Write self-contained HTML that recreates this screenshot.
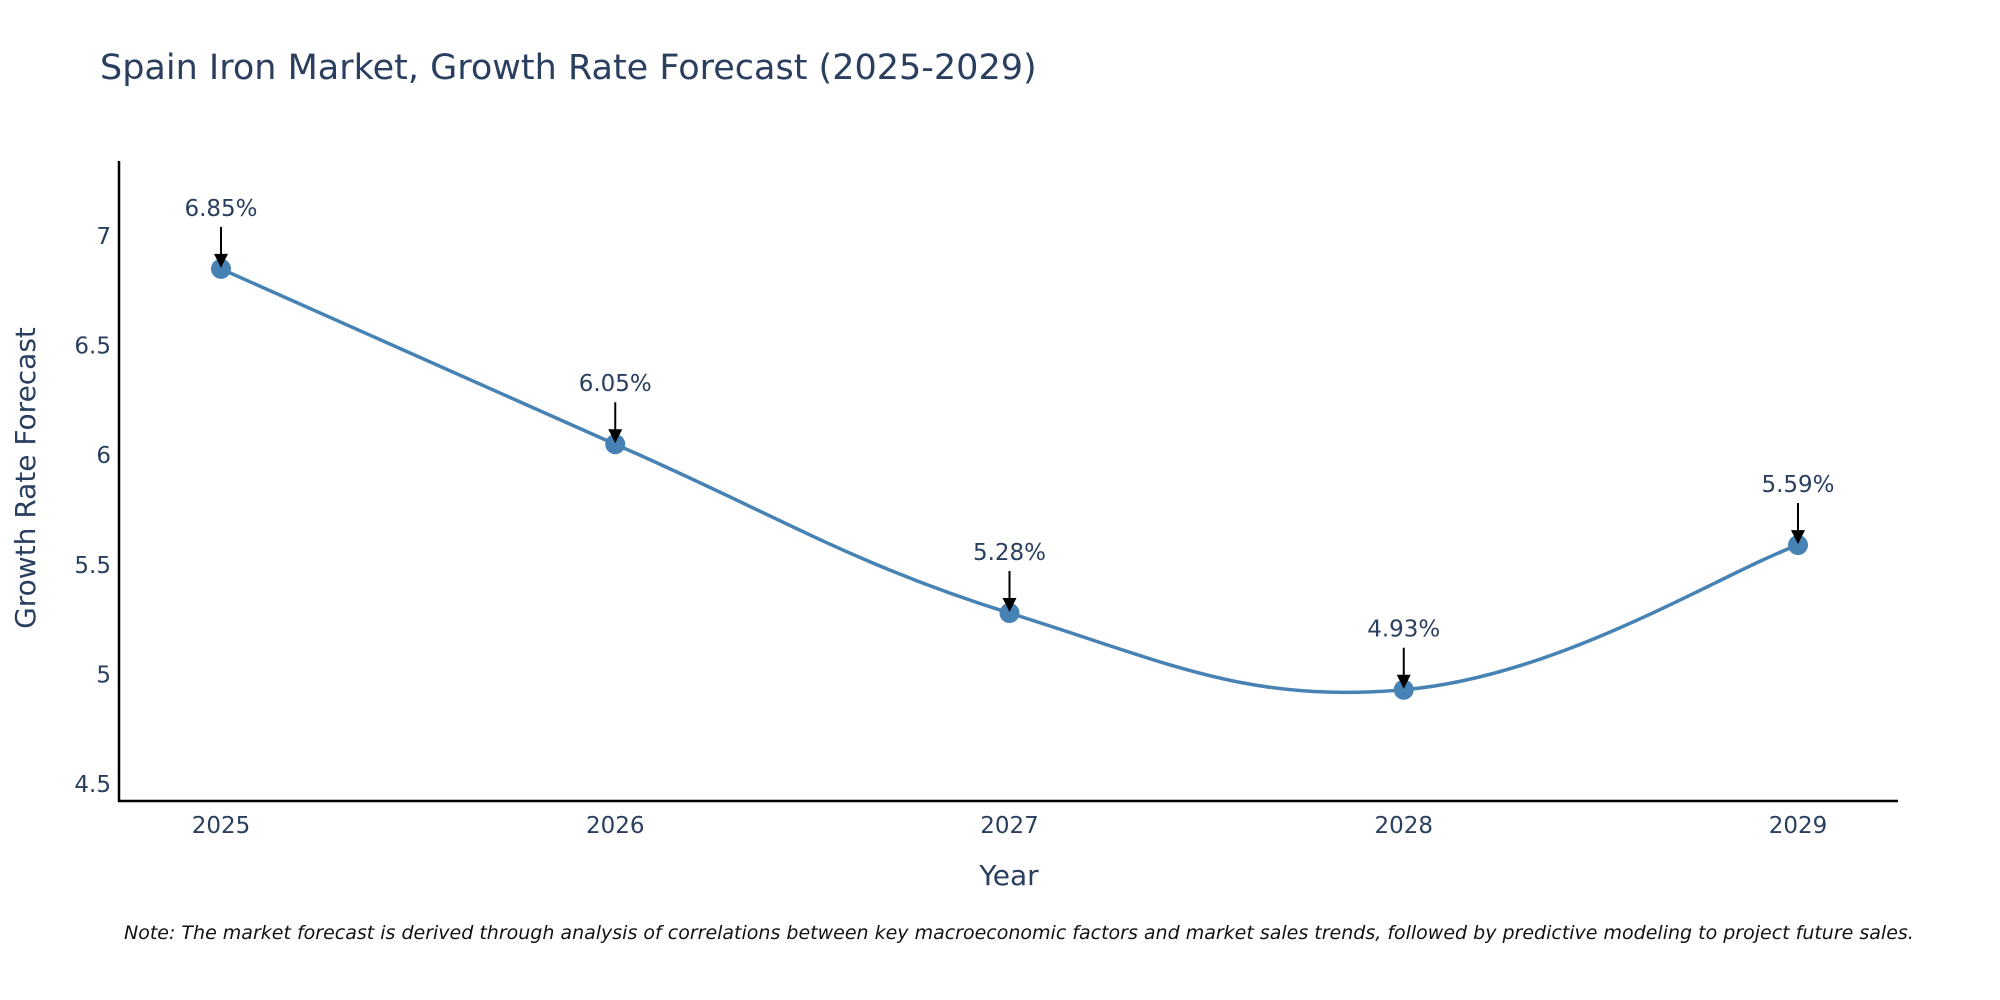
<!DOCTYPE html>
<html><head><meta charset="utf-8">
<style>
html,body{margin:0;padding:0;background:#fff;}
svg{display:block;font-family:"DejaVu Sans","Liberation Sans",sans-serif;}
</style></head>
<body>
<svg id="chart" width="2000" height="1000" viewBox="0 0 2000 1000" xmlns="http://www.w3.org/2000/svg">
<text x="100" y="79" font-size="35" fill="#2a3f5f">Spain Iron Market, Growth Rate Forecast (2025-2029)</text>
<g id="yticks"></g>
<g id="xticks"></g>
<line x1="119" y1="161" x2="119" y2="802" stroke="#000" stroke-width="2.5"/>
<line x1="118" y1="801" x2="1898" y2="801" stroke="#000" stroke-width="2.5"/>
<path id="line" fill="none" stroke="#4682b4" stroke-width="3.5"/>
<g id="points"></g>
<g id="annots"></g>
<text x="1009" y="885" font-size="28" fill="#2a3f5f" text-anchor="middle">Year</text>
<text x="35" y="478" font-size="28" fill="#2a3f5f" text-anchor="middle" transform="rotate(-90 35 478)">Growth Rate Forecast</text>
<text x="124" y="939" font-size="19" font-style="italic" fill="#111">Note: The market forecast is derived through analysis of correlations between key macroeconomic factors and market sales trends, followed by predictive modeling to project future sales.</text>
</svg>
<script>
const years = [2025, 2026, 2027, 2028, 2029];
const values = [6.85, 6.05, 5.28, 4.93, 5.59];
const labels = ["6.85%", "6.05%", "5.28%", "4.93%", "5.59%"];
const yTickVals = [4.5, 5, 5.5, 6, 6.5, 7];
const yTickLabels = ["4.5", "5", "5.5", "6", "6.5", "7"];

const NS = "http://www.w3.org/2000/svg";
function xs(v){ return 221 + (v - 2025) * (1798 - 221) / 4; }
function ys(v){ return 784 - (v - 4.5) * (784 - 236) / 2.5; }
function mk(tag, attrs, parent){
  const e = document.createElementNS(NS, tag);
  for (const k in attrs) e.setAttribute(k, attrs[k]);
  parent.appendChild(e); return e;
}
const yt = document.getElementById("yticks");
yTickVals.forEach((v, i) => {
  const t = mk("text", {x: 111, y: ys(v) + 8, "font-size": 23, fill: "#2a3f5f", "text-anchor": "end"}, yt);
  
  
  t.textContent = yTickLabels[i];
});
const xt = document.getElementById("xticks");
years.forEach(y => {
  const t = mk("text", {x: xs(y), y: 833, "font-size": 23, fill: "#2a3f5f", "text-anchor": "middle"}, xt);
  
  
  t.textContent = String(y);
});
const P = years.map((y, i) => [xs(y), ys(values[i])]);
let d = "M" + P[0][0] + "," + P[0][1];
const s = 0.2;
for (let i = 0; i < P.length - 1; i++){
  const p0 = P[i-1] || P[i], p1 = P[i], p2 = P[i+1], p3 = P[i+2] || P[i+1];
  const c1 = [p1[0] + (p2[0]-p0[0])*s, p1[1] + (p2[1]-p0[1])*s];
  const c2 = [p2[0] - (p3[0]-p1[0])*s, p2[1] - (p3[1]-p1[1])*s];
  d += " C" + c1.join(",") + " " + c2.join(",") + " " + p2.join(",");
}
document.getElementById("line").setAttribute("d", d);
const pts = document.getElementById("points");
const an = document.getElementById("annots");
P.forEach((p, i) => {
  const c = mk("circle", {cx: p[0], cy: p[1], r: 10, fill: "#4682b4"}, pts);
  
  
  const l = mk("line", {x1: p[0], y1: p[1] - 42, x2: p[0], y2: p[1] - 12, stroke: "#000", "stroke-width": 2}, an);
  
  
  const h = mk("polygon", {points: (p[0]-7)+","+(p[1]-15)+" "+(p[0]+7)+","+(p[1]-15)+" "+p[0]+","+(p[1]-1), fill: "#000"}, an);
  
  
  const t = mk("text", {x: p[0], y: p[1] - 53, "font-size": 23, fill: "#2a3f5f", "text-anchor": "middle"}, an);
  
  
  t.textContent = labels[i];
});
</script>
</body></html>
